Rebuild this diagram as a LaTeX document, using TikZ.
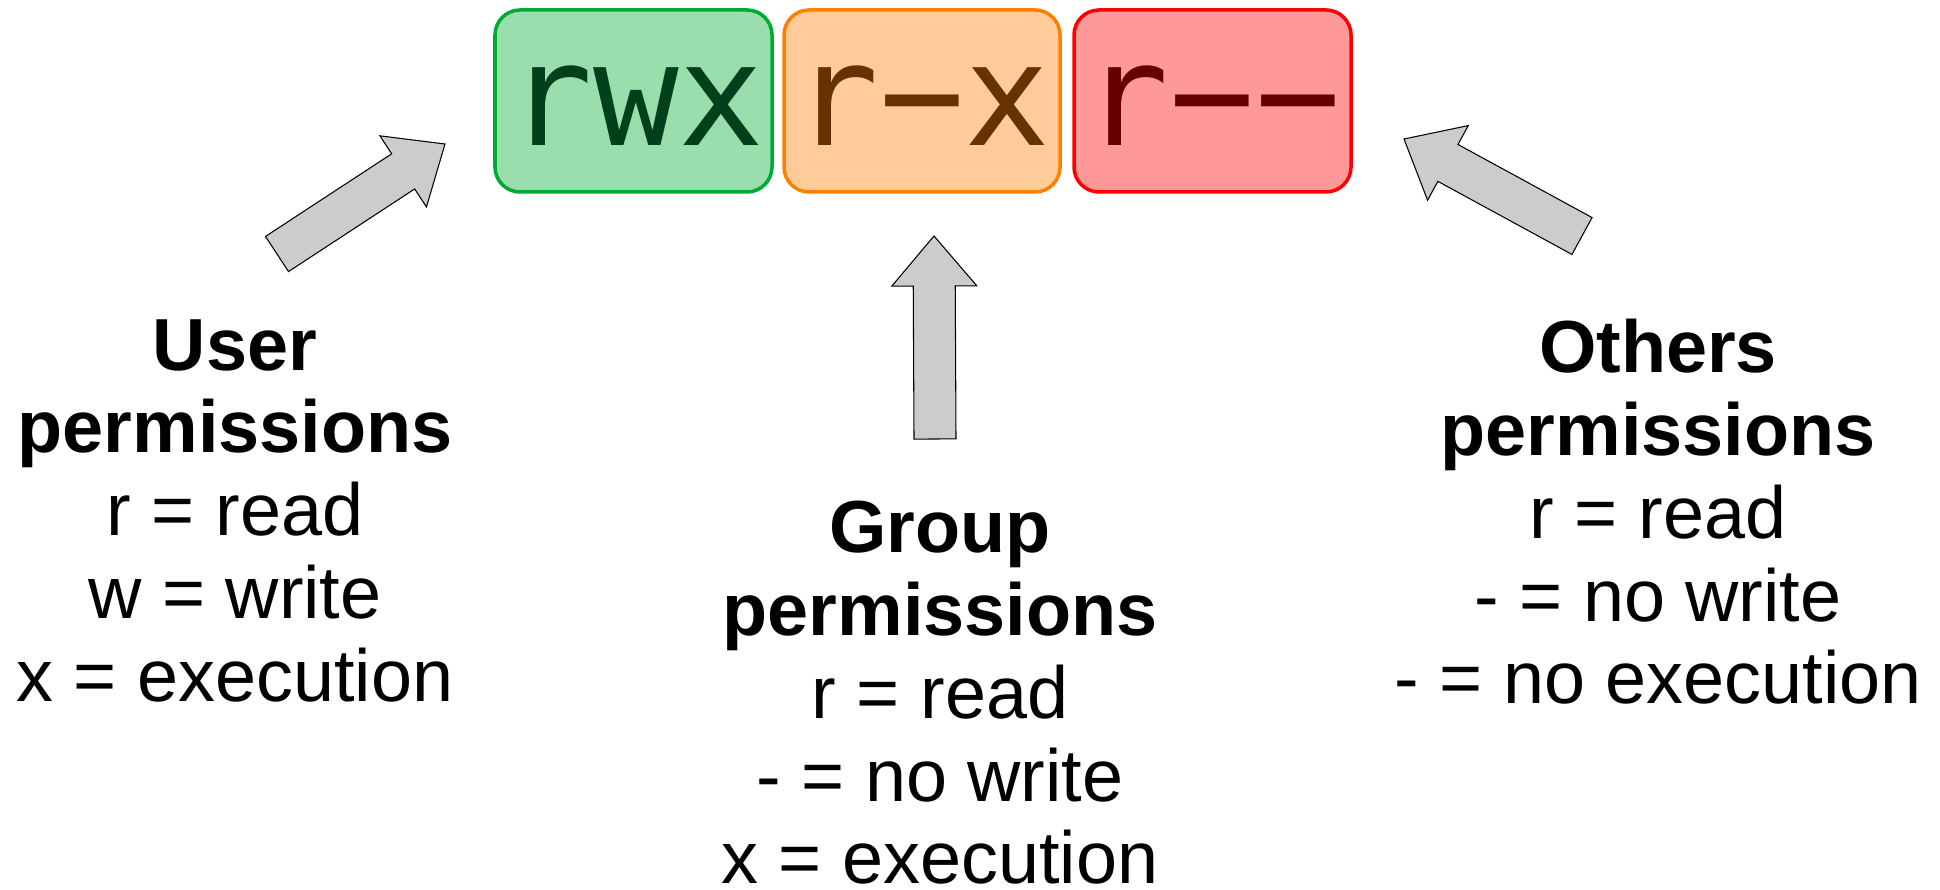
\documentclass[tikz,border=0pt]{standalone}
\usepackage{fontspec}
\setmainfont{Liberation Sans}
\newfontfamily\permfont{DejaVu Sans Mono}
\usepackage{tikz}
\usetikzlibrary{calc}
\definecolor{UserFill}{HTML}{9BDEAD}
\definecolor{UserLine}{HTML}{00A933}
\definecolor{UserText}{HTML}{00401A}
\definecolor{GroupFill}{HTML}{FFCC99}
\definecolor{GroupLine}{HTML}{FF8000}
\definecolor{GroupText}{HTML}{663300}
\definecolor{OtherFill}{HTML}{FF9999}
\definecolor{OtherLine}{HTML}{FF0000}
\definecolor{OtherText}{HTML}{660000}
\definecolor{ArrowFill}{HTML}{CCCCCC}
\tikzset{
  permbox/.style={rounded corners=0.5cm, line width=2pt, minimum width=5.54cm, minimum height=3.64cm, inner sep=0pt, font={\permfont\fontsize{81}{81}\selectfont}},
  infotext/.style={align=center, inner sep=0pt, anchor=north, font={\fontsize{42}{47.1}\selectfont}},
  blockarrow/.style={draw=black, fill=ArrowFill, line width=0.6pt, line join=miter},
}
% block arrow from tail #1 to tip #2
\newcommand{\blockarrow}[2]{%
  \coordinate (hb) at ($(#2)!1cm!(#1)$);
  \draw[blockarrow] ($(#1)!0.42cm!-90:(#2)$) -- ($(hb)!0.42cm!90:(#1)$) -- ($(hb)!0.85cm!90:(#1)$)
    -- (#2) -- ($(hb)!0.85cm!-90:(#1)$) -- ($(hb)!0.42cm!-90:(#1)$) -- ($(#1)!0.42cm!90:(#2)$) -- cycle;
}

\begin{document}
\begin{tikzpicture}[x=1cm,y=1cm]
\path[use as bounding box] (0,0) rectangle (38.8,17.78);

\draw[permbox,draw=UserLine,fill=UserFill] (9.90,13.94) rectangle (15.44,17.58);
\draw[permbox,draw=GroupLine,fill=GroupFill] (15.68,13.94) rectangle (21.20,17.58);
\draw[permbox,draw=OtherLine,fill=OtherFill] (21.48,13.94) rectangle (27.02,17.58);
\node[permbox,text=UserText] (ubox) at (12.72,15.66) {rwx};
\node[permbox,text=GroupText] (gbox) at (18.44,15.66) {r−x};
\node[permbox,text=OtherText] (obox) at (24.25,15.66) {r−−};

\node[infotext] (user) at (4.70,11.40) {\textbf{User}\\\textbf{permissions}\\r = read\\w = write\\x = execution};
\node[infotext] (group) at (18.80,7.76) {\textbf{Group}\\\textbf{permissions}\\r = read\\- = no write\\x = execution};
\node[infotext] (other) at (33.16,11.40) {\textbf{Others}\\\textbf{permissions}\\r = read\\- = no write\\- = no execution};

\coordinate (utail) at (5.54,12.70);
\coordinate (utip) at (8.90,14.90);
\coordinate (gtail) at (18.70,9.00);
\coordinate (gtip) at (18.68,13.06);
\coordinate (otail) at (31.64,13.06);
\coordinate (otip) at (28.08,15.00);
\blockarrow{utail}{utip}
\blockarrow{gtail}{gtip}
\blockarrow{otail}{otip}
\end{tikzpicture}
\end{document}
